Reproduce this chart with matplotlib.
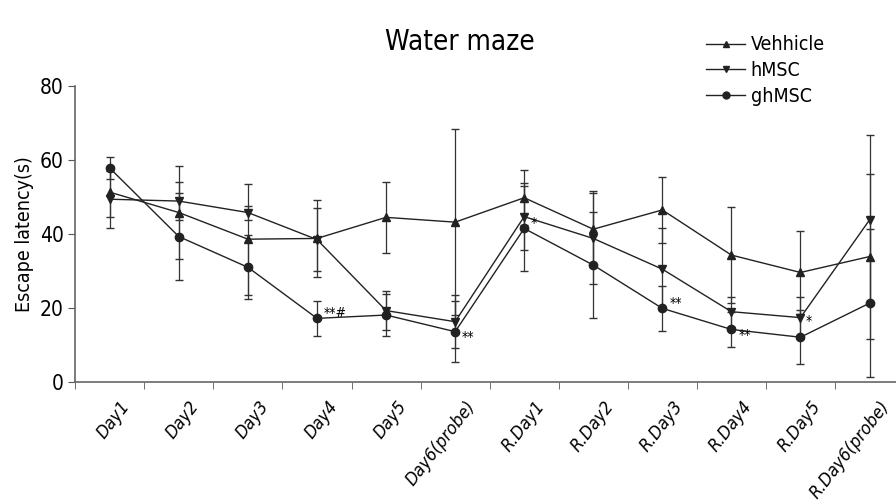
import matplotlib

matplotlib.use("Agg")

import matplotlib.pyplot as plt
import matplotlib.transforms as mtransforms
from matplotlib.lines import Line2D

days = ["Day1", "Day2", "Day3", "Day4", "Day5", "Day6(probe)",
        "R.Day1", "R.Day2", "R.Day3", "R.Day4", "R.Day5", "R.Day6(probe)"]

vehicle = [51.3, 45.8, 38.6, 38.8, 44.5, 43.2, 49.8, 41.3, 46.5, 34.3, 29.6, 33.9]
vehicle_err = [6.6, 12.6, 15.0, 10.5, 9.5, 25.2, 7.5, 10.3, 9.0, 13.0, 11.2, 22.2]

hmsc = [49.4, 48.9, 45.8, 38.5, 19.3, 16.3, 44.7, 38.8, 30.5, 19.0, 17.4, 43.8]
hmsc_err = [7.7, 5.2, 1.9, 8.5, 5.3, 7.2, 9.0, 12.4, 11.0, 4.0, 5.7, 23.0]

ghmsc = [57.8, 39.3, 31.0, 17.2, 18.1, 13.6, 41.5, 31.6, 19.9, 14.2, 12.1, 21.3]
ghmsc_err = [3.0, 11.7, 8.6, 4.8, 5.8, 8.3, 11.5, 14.4, 6.0, 4.7, 7.3, 20.0]

# significance marks next to ghMSC points
marks = {3: "**#", 5: "**", 6: "*", 8: "**", 9: "**", 10: "*"}

plt.rcParams["font.family"] = ["DejaVu Sans"]
plt.rcParams["font.stretch"] = "condensed"

fig = plt.figure(figsize=(8.96, 5), dpi=100)
ax = fig.add_axes([0.084, 0.236, 0.925, 0.592])

x = list(range(len(days)))
style = dict(color="#222222", lw=1.0, ms=6, capsize=3, elinewidth=0.9, ecolor="#333333")
ax.errorbar(x, vehicle, yerr=vehicle_err, marker="^", **style)
ax.errorbar(x, hmsc, yerr=hmsc_err, marker="v", **style)
ax.errorbar(x, ghmsc, yerr=ghmsc_err, marker="o", **style)

for i, txt in marks.items():
    if i in (5, 9):
        ax.text(i + 0.1, ghmsc[i] - 1.5, txt, fontsize=10, va="center")
    elif i == 10:
        ax.text(i + 0.08, ghmsc[i] + 4.5, txt, fontsize=10, va="center")
    else:
        ax.text(i + 0.1, ghmsc[i] + 1.5, txt, fontsize=10, va="center")

ax.set_xlim(-0.5, 11.5)
ax.set_ylim(0, 80)
ax.set_yticks([0, 20, 40, 60, 80])
ax.tick_params(axis="y", labelsize=15, length=5, color="#555555")
ax.set_xticks(x)
ax.set_xticklabels(days, rotation=52, ha="right", rotation_mode="anchor",
                   fontsize=13, style="italic")
ax.tick_params(axis="x", which="major", length=0, pad=11)
shift = mtransforms.ScaledTranslation(0.1, 0, fig.dpi_scale_trans)
for lab in ax.get_xticklabels():
    lab.set_transform(lab.get_transform() + shift)
ax.set_xticks([i - 0.5 for i in range(len(days) + 1)], minor=True)
ax.tick_params(axis="x", which="minor", length=5, color="#555555")
for s in ["top", "right"]:
    ax.spines[s].set_visible(False)
for s in ["left", "bottom"]:
    ax.spines[s].set_color("#666666")
    ax.spines[s].set_linewidth(1.2)

ax.set_ylabel("Escape latency(s)", fontsize=14)
fig.text(0.513, 0.90, "Water maze", ha="center", fontsize=20)

handles = [Line2D([], [], color="#222222", lw=1.0, marker=m, ms=5) for m in ["^", "v", "o"]]
ax.legend(handles, ["Vehhicle", "hMSC", "ghMSC"], loc="upper left",
          bbox_to_anchor=(0.74, 1.23), frameon=False, fontsize=14,
          handlelength=2.0, handletextpad=0.3, labelspacing=0.35)

fig.savefig("out.png", dpi=100)
